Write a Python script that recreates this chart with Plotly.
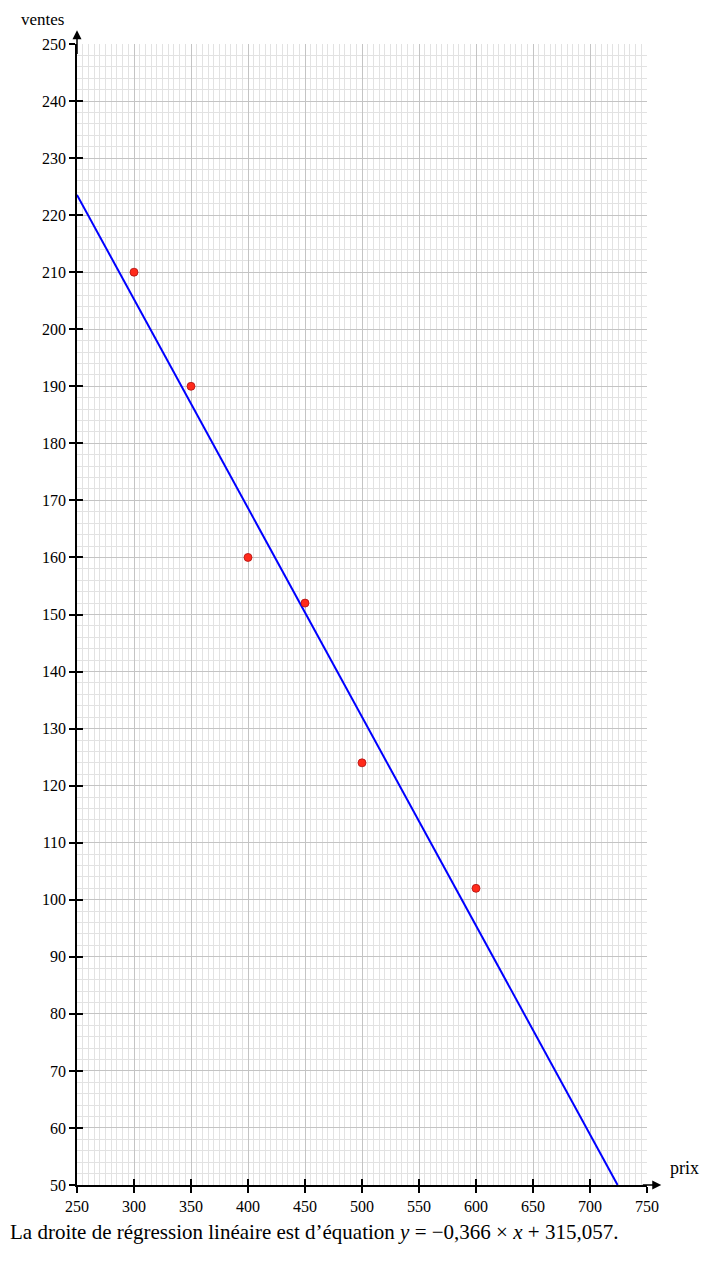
import plotly.graph_objects as go

prix = [300, 350, 400, 450, 500, 600]
ventes = [210, 190, 160, 152, 124, 102]
slope = -0.366
intercept = 315.057
x_range = [250, 750]
y_range = [50, 250]

line_x = [250, (50 - intercept) / slope]
line_y = [slope * v + intercept for v in line_x]

FONT = "Liberation Serif"

fig = go.Figure()
fig.add_trace(go.Scatter(x=line_x, y=line_y, mode="lines",
                         line=dict(color="#0000ff", width=2), showlegend=False))
fig.add_trace(go.Scatter(x=prix, y=ventes, mode="markers",
                         marker=dict(color="#ff2a1a", size=8,
                                     line=dict(color="#b01010", width=0.8)),
                         showlegend=False))

fig.update_layout(
    width=704, height=1253,
    margin=dict(l=69, r=65, t=36, b=76),
    paper_bgcolor="white", plot_bgcolor="white",
    font=dict(family=FONT, size=16, color="black"),
    xaxis=dict(range=x_range, dtick=50, tick0=250, showgrid=True,
               gridcolor="#c4c4c4", gridwidth=1,
               minor=dict(dtick=5, showgrid=True, gridcolor="#e2e2e2", gridwidth=1),
               showline=True, linecolor="black", linewidth=1.5,
               ticks="outside", ticklen=6, tickcolor="black", tickwidth=1.5,
               zeroline=False, fixedrange=True),
    yaxis=dict(range=y_range, dtick=10, tick0=50, showgrid=True,
               gridcolor="#c4c4c4", gridwidth=1,
               minor=dict(dtick=2, showgrid=True, gridcolor="#e2e2e2", gridwidth=1),
               showline=True, linecolor="black", linewidth=1.5,
               ticks="outside", ticklen=6, tickcolor="black", tickwidth=1.5,
               zeroline=False, fixedrange=True),
    xaxis2=dict(range=x_range, dtick=50, tick0=250, overlaying="x",
                showgrid=False, showticklabels=False, ticks="inside",
                ticklen=6, tickcolor="black", tickwidth=1.5, zeroline=False),
    yaxis2=dict(range=y_range, dtick=10, tick0=50, overlaying="y",
                showgrid=False, showticklabels=False, ticks="inside",
                ticklen=6, tickcolor="black", tickwidth=1.5, zeroline=False),
)
# dummy trace to activate the secondary axes
fig.add_trace(go.Scatter(x=[None], y=[None], xaxis="x2", yaxis="y2",
                         showlegend=False, hoverinfo="skip"))

# axis arrows
fig.add_annotation(x=1.025, y=0, xref="x domain", yref="y domain",
                   ax=0.99, ay=0, axref="x domain", ayref="y domain",
                   showarrow=True, arrowhead=2, arrowsize=1.2, arrowwidth=1.5,
                   arrowcolor="black", text="")
fig.add_annotation(x=0, y=1.012, xref="x domain", yref="y domain",
                   ax=0, ay=0.99, axref="x domain", ayref="y domain",
                   showarrow=True, arrowhead=2, arrowsize=1.2, arrowwidth=1.5,
                   arrowcolor="black", text="")

fig.add_annotation(text="ventes", xref="paper", yref="paper", x=-0.061, y=1.0312,
                   xanchor="center", yanchor="top", showarrow=False,
                   font=dict(size=17))
fig.add_annotation(text="prix", xref="paper", yref="paper", x=1.037, y=0.0149,
                   xanchor="left", yanchor="middle", showarrow=False,
                   font=dict(size=18))
fig.add_annotation(
    text="La droite de régression linéaire est d’équation <i>y</i> = −0,366 × <i>x</i> + 315,057.",
    xref="paper", yref="paper", x=-0.121, y=-0.029, xanchor="left", yanchor="top",
    showarrow=False, font=dict(size=21))

fig.write_html("out.html")
